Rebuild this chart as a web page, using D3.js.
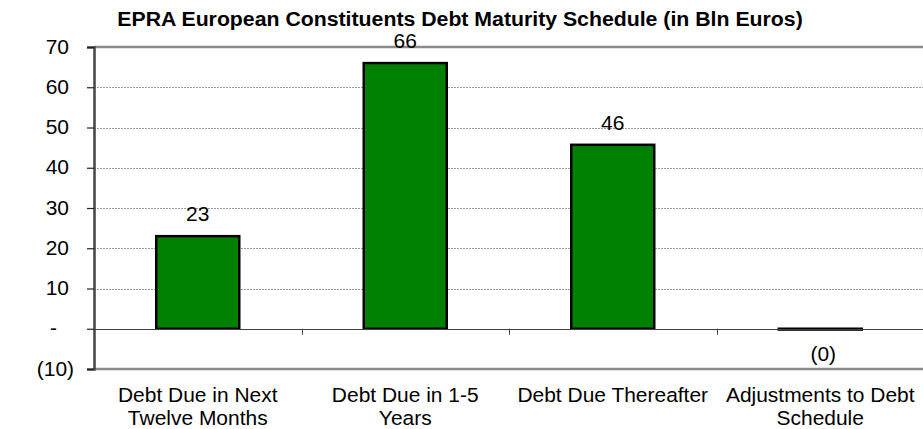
<!DOCTYPE html>
<html><head><meta charset="utf-8">
<script src="https://cdn.jsdelivr.net/npm/d3@7"></script>
<style>html,body{margin:0;padding:0;background:#fff;}svg{display:block;}</style>
</head><body>
<svg id="chart" width="923" height="429"></svg>
<script>
const title = "EPRA European Constituents Debt Maturity Schedule (in Bln Euros)";
const categories = [
  ["Debt Due in Next", "Twelve Months"],
  ["Debt Due in 1-5", "Years"],
  ["Debt Due Thereafter"],
  ["Adjustments to Debt", "Schedule"]
];
const values = [23, 66, 45.7, -0.2];
const valueLabels = ["23", "66", "46", "(0)"];
const yTicks = [-10, 0, 10, 20, 30, 40, 50, 60, 70];
const yTickLabels = ["(10)", "-", "10", "20", "30", "40", "50", "60", "70"];

const svg = d3.select("#chart");
const font = "Liberation Sans, Arial, sans-serif";
const SX = 1.075; // horizontal stretch of text seen in the reference
const m = {left: 94, right: -1, top: 47, bottom: 60};
const W = 923, H = 429;
const x = d3.scaleBand().domain(d3.range(categories.length)).range([m.left, W - m.right]).paddingInner(0).paddingOuter(0);
const y = d3.scaleLinear().domain([-10, 70]).range([H - m.bottom, m.top]);

function stretch(sel, s) {
  sel.each(function() {
    const ax = +this.getAttribute("x") || 0;
    this.setAttribute("transform", `translate(${ax},0) scale(${s},1) translate(${-ax},0)`);
  });
}
// accounting-format alignment: parentheses hang right, dash sits in the digit column
const labelShift = t => t.startsWith("(") ? 5 : (t === "-" ? -12 : 0);

// gridlines (dotted)
svg.append("g").selectAll("line").data(yTicks.filter(t => t > 0 && t < 70)).join("line")
  .attr("x1", m.left).attr("x2", W)
  .attr("y1", d => Math.round(y(d)) + 0.5).attr("y2", d => Math.round(y(d)) + 0.5)
  .attr("stroke", "#9a9a9a").attr("stroke-width", 1).attr("stroke-dasharray", "2,1");

// top & bottom border
[70, -10].forEach(v => {
  svg.append("line").attr("x1", m.left).attr("x2", W)
    .attr("y1", Math.round(y(v))).attr("y2", Math.round(y(v)))
    .attr("stroke", "#8a8a8a").attr("stroke-width", 2.5);
});

// bars
svg.append("g").selectAll("rect").data(values).join("rect")
  .attr("x", (d, i) => x(i) + x.bandwidth() * 0.3)
  .attr("width", x.bandwidth() * 0.4)
  .attr("y", d => y(Math.max(0, d)))
  .attr("height", d => Math.max(0.5, Math.abs(y(d) - y(0))))
  .attr("fill", "#008000").attr("stroke", "#000").attr("stroke-width", 2.5);

// zero line
svg.append("line").attr("x1", m.left).attr("x2", W)
  .attr("y1", Math.round(y(0)) + 0.5).attr("y2", Math.round(y(0)) + 0.5)
  .attr("stroke", "#404040").attr("stroke-width", 1.2);

// category tick marks on zero line
svg.append("g").selectAll("line").data(d3.range(1, categories.length)).join("line")
  .attr("x1", i => Math.round(x(i)) + 0.5).attr("x2", i => Math.round(x(i)) + 0.5)
  .attr("y1", y(0)).attr("y2", y(0) + 6)
  .attr("stroke", "#404040").attr("stroke-width", 1);

// y axis
const yAxis = d3.axisLeft(y).tickValues(yTicks).tickFormat((d, i) => yTickLabels[i]).tickSize(7).tickPadding(17);
const ga = svg.append("g").attr("transform", `translate(${m.left},0)`).call(yAxis);
ga.select(".domain").attr("stroke", "#444").attr("stroke-width", 2.5);
ga.selectAll(".tick line").attr("stroke", "#222").attr("stroke-width", 1.2);
ga.selectAll(".tick text").attr("font-family", font).attr("font-size", 19.5).attr("fill", "#000")
  .attr("x", function() { return -25 + labelShift(this.textContent); });
stretch(ga.selectAll(".tick text"), SX);

// value labels
const vl = svg.append("g").selectAll("text").data(values).join("text")
  .attr("x", (d, i) => x(i) + x.bandwidth() / 2 + (valueLabels[i].startsWith("(") ? 3 : 0))
  .attr("y", d => d >= 0 ? y(d) - 15 : y(d) + 31)
  .attr("text-anchor", "middle").attr("font-family", font).attr("font-size", 19.5)
  .text((d, i) => valueLabels[i]);
stretch(vl, SX);

// category labels
const cl = svg.append("g").selectAll("text").data(categories).join("text")
  .attr("x", (d, i) => x(i) + x.bandwidth() / 2)
  .attr("y", 402)
  .attr("text-anchor", "middle").attr("font-family", font).attr("font-size", 19.5);
cl.selectAll("tspan").data(d => d).join("tspan")
  .attr("x", function() { return this.parentNode.getAttribute("x"); })
  .attr("dy", (d, i) => i === 0 ? 0 : 23.5)
  .text(d => d);
stretch(cl, SX);

// title
const tt = svg.append("text").attr("x", 460).attr("y", 26).attr("text-anchor", "middle")
  .attr("font-family", font).attr("font-weight", "bold").attr("font-size", 19.5)
  .text(title);
stretch(tt, 686 / tt.node().getComputedTextLength());
</script>
</body></html>
